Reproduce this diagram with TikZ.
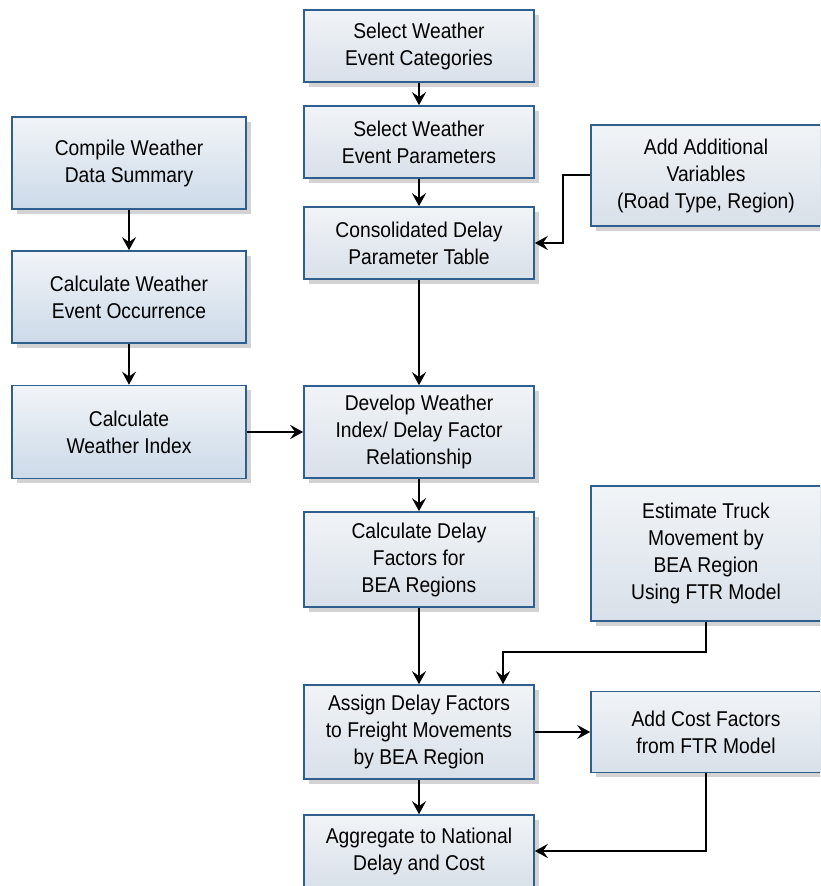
\documentclass[tikz,border=0pt]{standalone}
\usepackage{fontspec}
\setmainfont{Liberation Sans}[FakeStretch=0.9]
\usetikzlibrary{arrows.meta,shadows,positioning}

\definecolor{taskborder}{HTML}{2F5F8F}
\definecolor{tasktop}{HTML}{F1F4F7}
\definecolor{taskbottom}{HTML}{D8E0E9}
\definecolor{sidebottom}{HTML}{CCDAE9}

\tikzstyle{task}  = [rectangle, draw=taskborder, line width=0.8pt
                    , top color=tasktop, bottom color=taskbottom
                    , drop shadow={shadow xshift=2.4pt, shadow yshift=-2.4pt
                                  , opacity=0.35}
                    , minimum width=115pt, minimum height=36pt
                    , align=center, inner sep=2pt
                    , font=\fontsize{10.7pt}{13.5pt}\selectfont]
\tikzstyle{side}  = [task, minimum width=117pt, bottom color=sidebottom]
\tikzstyle{flow}  = [line width=1pt
                    , -{Stealth[length=6.5pt, width=7pt, inset=2.4pt]}]

\begin{document}
\begin{tikzpicture}[x=0.5pt, y=-0.5pt]

\useasboundingbox (0,0) rectangle (820,886);
\clip (0,0) rectangle (820,886);

%% Centre column
\node [task] (Select-Categories) at (419,46) {Select Weather\\Event Categories};
\node [task] (Select-Parameters) at (419,142) {Select Weather\\Event Parameters};
\node [task] (Delay-Table) at (419,243) {Consolidated Delay\\Parameter Table};
\node [task, minimum height=46pt] (Develop-Relation) at (419,432) {Develop Weather\\Index/ Delay Factor\\Relationship};
\node [task, minimum height=47.5pt] (Calc-Delay) at (419,559.5) {Calculate Delay\\Factors for\\BEA Regions};
\node [task, minimum height=47pt] (Assign-Delay) at (419,732) {Assign Delay Factors\\to Freight Movements\\by BEA Region};
\node [task] (Aggregate-Total) at (419,851) {Aggregate to National\\Delay and Cost};

%% Left column
\node [side, minimum height=46pt] (Compile-Summary) at (129,163) {Compile Weather\\Data Summary};
\node [side, minimum height=46pt] (Calc-Occurrence) at (129,297) {Calculate Weather\\Event Occurrence};
\node [side, minimum height=46.5pt] (Calc-Index) at (129,432) {Calculate\\Weather Index};

%% Right column
\node [task, minimum height=50.5pt] (Add-Variables) at (706,175.5) {Add Additional\\Variables\\(Road Type, Region)};
\node [task, minimum height=67.5pt] (Estimate-Truck) at (706,553.5) {Estimate Truck\\Movement by\\BEA Region\\Using FTR Model};
\node [task, minimum height=40.5pt] (Add-Cost) at (706,732) {Add Cost Factors\\from FTR Model};

%% Bends
\coordinate (Add-Variables-Bend) at (563,175.5);
\coordinate (Estimate-Truck-Bend) at (503,652);

%% Connectors
\draw [flow] (Select-Categories) -- (Select-Parameters);
\draw [flow] (Select-Parameters) -- (Delay-Table);
\draw [flow] (Delay-Table) -- (Develop-Relation);
\draw [flow] (Develop-Relation) -- (Calc-Delay);
\draw [flow] (Calc-Delay) -- (Assign-Delay);
\draw [flow] (Assign-Delay) -- (Aggregate-Total);

\draw [flow] (Compile-Summary) -- (Calc-Occurrence);
\draw [flow] (Calc-Occurrence) -- (Calc-Index);
\draw [flow] (Calc-Index) -- (Develop-Relation);

\draw [flow] (Add-Variables.west) -- (Add-Variables-Bend) |- (Delay-Table.east);
\draw [flow] (Estimate-Truck.south) |- (Estimate-Truck-Bend) -- (Assign-Delay.north -| Estimate-Truck-Bend);
\draw [flow] (Assign-Delay) -- (Add-Cost);
\draw [flow] (Add-Cost.south) |- (Aggregate-Total.east);

\end{tikzpicture}
\end{document}
